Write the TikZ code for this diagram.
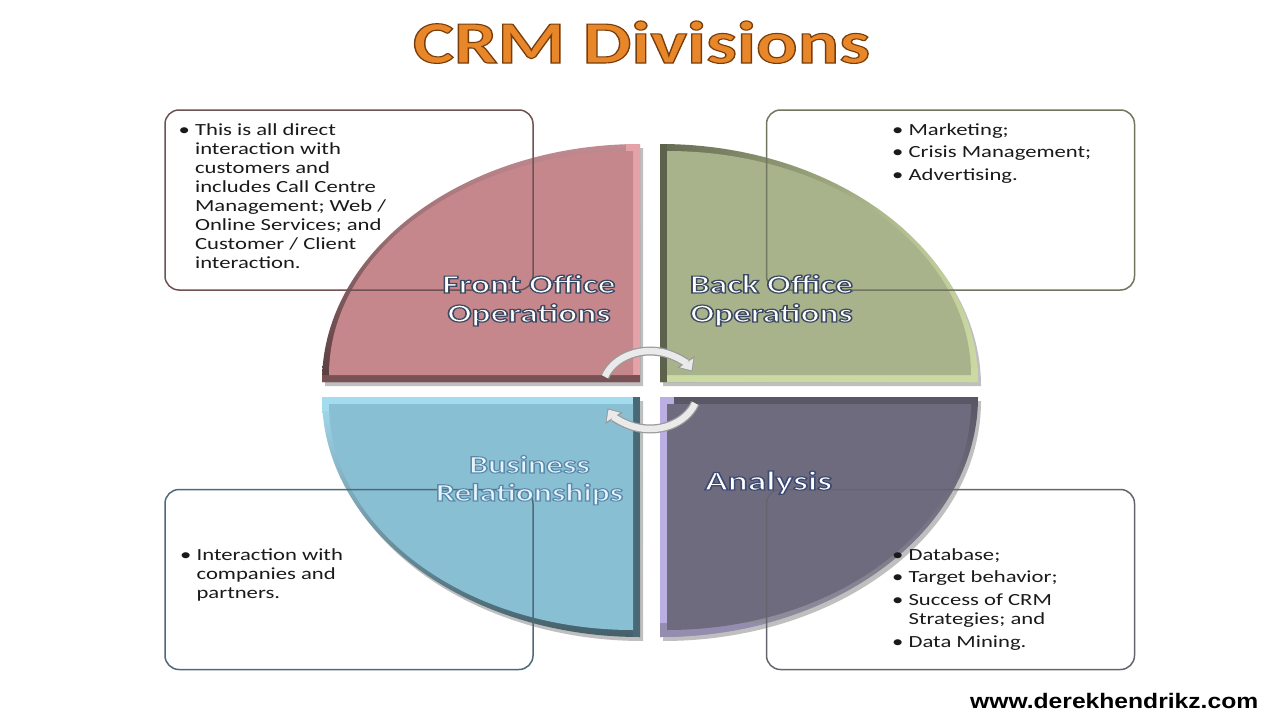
\documentclass[tikz,border=0pt]{standalone}
\usepackage{fontspec}
\setmainfont{Carlito}
\newfontfamily\webfont{Liberation Sans}
\usepackage{graphicx}
\usetikzlibrary{arrows.meta}

\definecolor{txt}{HTML}{1A1A1A}
\definecolor{titleor}{HTML}{E8862A}
\definecolor{pinkmain}{HTML}{C6878C}
\definecolor{pinklite}{HTML}{E3A3A9}
\definecolor{greenmain}{HTML}{A9B38B}
\definecolor{greenlite}{HTML}{CBD9A2}
\definecolor{bluemain}{HTML}{89BFD3}
\definecolor{bluelite}{HTML}{A4DCEF}
\definecolor{purpmain}{HTML}{6F6B7F}
\definecolor{purplite}{HTML}{BBAEE2}
\definecolor{tlline}{HTML}{6E5254}
\definecolor{trline}{HTML}{707660}
\definecolor{blline}{HTML}{4E6A7A}
\definecolor{brline}{HTML}{66646E}
\definecolor{busfill}{HTML}{E6F4FB}
\definecolor{arrgray}{HTML}{9A9A9A}
\definecolor{arrfill}{HTML}{EAEAEA}

\newcommand{\hs}[1]{\scalebox{1.333}[1]{#1}}
\newcommand{\bul}{\makebox[12.3pt][l]{\textbullet}}
\newcommand{\ind}{\makebox[12.3pt]{}}
% outlined text: #1 line width, #2 stroke rgb, #3 text
\newcommand{\outl}[3]{\special{pdf:literal direct #2 RG #1 w 2 Tr}#3\special{pdf:literal direct 0 Tr}}

% quadrant paths: #1 = path command, #2 = inset
\newcommand{\QTL}[2]{#1 ({640-#2},{382-#2}) -- ({322+#2},{382-#2}) arc[start angle=180,end angle=270,x radius={318-2*#2},y radius={238-2*#2}] -- cycle;}
\newcommand{\QTR}[2]{#1 ({660+#2},{382-#2}) -- ({660+#2},{144+#2}) arc[start angle=270,end angle=360,x radius={318-2*#2},y radius={238-2*#2}] -- cycle;}
\newcommand{\QBL}[2]{#1 ({640-#2},{397+#2}) -- ({640-#2},{637-#2}) arc[start angle=90,end angle=180,x radius={318-2*#2},y radius={240-2*#2}] -- cycle;}
\newcommand{\QBR}[2]{#1 ({660+#2},{397+#2}) -- ({978-#2},{397+#2}) arc[start angle=0,end angle=90,x radius={318-2*#2},y radius={240-2*#2}] -- cycle;}

\tikzset{
  infobox/.style={draw, rounded corners=14pt, line width=1.5pt, minimum width=368pt, minimum height=180pt, inner sep=0pt},
  body/.style={anchor=base west, inner sep=0pt, text=txt, font=\fontsize{17}{19}\selectfont},
  lab/.style={anchor=base, inner sep=0pt, text=white, font=\fontsize{26}{29}\selectfont\bfseries},
  arrowout/.style={line width=9pt, draw=arrgray, -{Triangle[length=12pt,width=20pt]}},
  arrowin/.style={line width=6.5pt, draw=arrfill, shorten >=1.6pt, -{Triangle[length=9pt,width=15.5pt]}},
  qshadow/.style={black, opacity=0.25, shift={(3,4)}}
}

\begin{document}
\begin{tikzpicture}[x=1pt,y=-1pt]
\useasboundingbox (0,0) rectangle (1280,720);
\fill[white] (0,0) rectangle (1280,720);

% ---- title
\node[anchor=base, inner sep=0pt, text=titleor, font=\fontsize{60}{60}\selectfont\bfseries] (title) at (641.5,63)
  {\resizebox{457pt}{\height}{\outl{1.1}{0.48 0.24 0.04}{CRM Divisions}}};

% ---- quadrants: shadows
\QTL{\fill[qshadow]}{0}
\QTR{\fill[qshadow]}{0}
\QBL{\fill[qshadow]}{0}
\QBR{\fill[qshadow]}{0}

% rims
\QTL{\shade[top color=pinklite!85!black, bottom color=pinkmain!45!black]}{0}
\QTR{\shade[left color=greenmain!60!black, right color=greenlite]}{0}
\QBL{\shade[top color=bluelite, bottom color=bluemain!50!black]}{0}
\QBR{\shade[top color=purpmain!80!black, bottom color=purpmain!75!white]}{0}

% light / dark strips along the straight edges
\begin{scope}\QTL{\clip}{0}\fill[pinklite] (626,140) rectangle (641,386);\fill[pinkmain!60!black] (320,375) rectangle (641,386);\end{scope}
\begin{scope}\QTR{\clip}{0}\fill[greenlite] (655,368) rectangle (985,383);\fill[greenmain!55!black] (655,140) rectangle (667,386);\end{scope}
\begin{scope}\QBL{\clip}{0}\fill[bluelite] (318,396) rectangle (641,411);\fill[bluemain!55!black] (633,396) rectangle (641,640);\end{scope}
\begin{scope}\QBR{\clip}{0}\fill[purplite] (659,396) rectangle (674,640);\fill[purplite!50!purpmain] (659,623) rectangle (985,640);\end{scope}

% main faces
\QTL{\fill[pinkmain]}{7}
\QTR{\fill[greenmain]}{7}
\QBL{\fill[bluemain]}{7}
\QBR{\fill[purpmain]}{7}

% ---- info boxes (outlines visible over the quadrants)
\node[infobox, draw=tlline] (tlbox) at (349,200) {};
\node[infobox, draw=trline] (trbox) at (950.5,200) {};
\node[infobox, draw=blline] (blbox) at (349,579.5) {};
\node[infobox, draw=brline] (brbox) at (950.5,579.5) {};

% ---- cycle arrows
\coordinate (atop) at (604.9,376.7);
\coordinate (abot) at (695.1,403.3);
\draw[arrowout] (atop) arc[start angle=200,end angle=332,x radius=48,y radius=39];
\draw[arrowin]  (atop) arc[start angle=200,end angle=332,x radius=48,y radius=39];
\draw[arrowout] (abot) arc[start angle=20,end angle=152,x radius=48,y radius=39];
\draw[arrowin]  (abot) arc[start angle=20,end angle=152,x radius=48,y radius=39];

% ---- quadrant labels
\node[lab] (fo) at (529,293)
  {\resizebox{173pt}{\height}{\outl{1.2}{0.24 0.29 0.39}{\begin{tabular}[t]{@{}c@{}}Front Office\\Operations\end{tabular}}}};
\node[lab] (bo) at (771.5,293)
  {\resizebox{163pt}{\height}{\outl{1.2}{0.24 0.29 0.39}{\begin{tabular}[t]{@{}c@{}}Back Office\\Operations\end{tabular}}}};
\node[lab, text=busfill, font=\fontsize{25}{28}\selectfont\bfseries] (br) at (529.5,473)
  {\resizebox{187pt}{\height}{\outl{1.1}{0.36 0.54 0.68}{\begin{tabular}[t]{@{}c@{}}Business\\Relationships\end{tabular}}}};
\node[lab, font=\fontsize{27}{30}\selectfont\bfseries] (an) at (768.5,490)
  {\resizebox{127pt}{\height}{\outl{1.2}{0.24 0.29 0.45}{Analysis}}};

% ---- body texts
\node[body] (tltext) at (178.5,135) {\hs{\begin{tabular}[t]{@{}l@{}}
\bul This is all direct\\
\ind interaction with\\
\ind customers and\\
\ind includes Call Centre\\
\ind Management; Web /\\
\ind Online Services; and\\
\ind Customer / Client\\
\ind interaction.
\end{tabular}}};

\node[body] (trtext) at (892,135) {\hs{\begin{tabular}[t]{@{}l@{}}
\bul Marketing;\\[3.5pt]
\bul Crisis Management;\\[3.5pt]
\bul Advertising.
\end{tabular}}};

\node[body] (bltext) at (180,560) {\hs{\begin{tabular}[t]{@{}l@{}}
\bul Interaction with\\
\ind companies and\\
\ind partners.
\end{tabular}}};

\node[body] (brtext) at (892,560) {\hs{\begin{tabular}[t]{@{}l@{}}
\bul Database;\\[3.5pt]
\bul Target behavior;\\[4pt]
\bul Success of CRM\\
\ind Strategies; and\\[3.5pt]
\bul Data Mining.
\end{tabular}}};

% ---- website
\node[anchor=base west, inner sep=0pt, text=black, font=\fontsize{21}{21}\webfont\bfseries] (web) at (970,708)
  {\resizebox{288pt}{\height}{www.derekhendrikz.com}};
\end{tikzpicture}
\end{document}
